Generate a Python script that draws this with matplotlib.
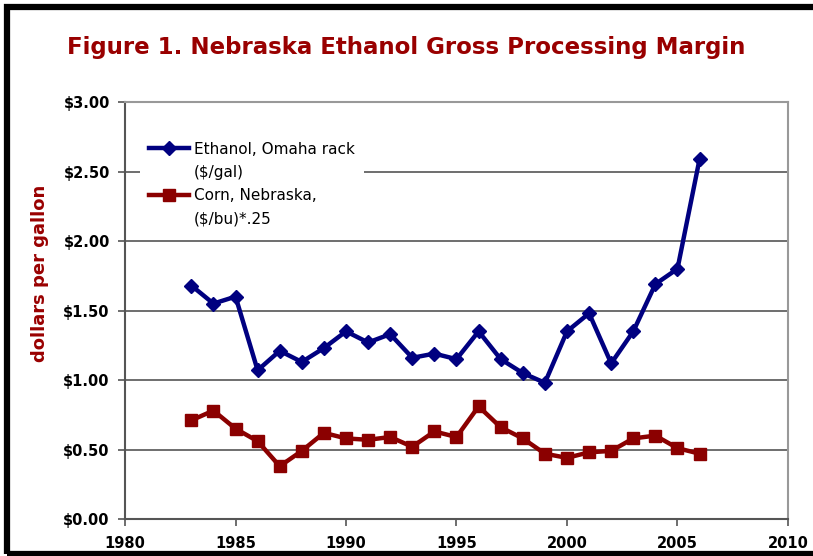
import matplotlib
matplotlib.use('Agg')
import matplotlib.pyplot as plt
from matplotlib.lines import Line2D
from matplotlib.patches import Rectangle
from matplotlib.ticker import FuncFormatter

years = list(range(1983, 2007))
ethanol = [1.68, 1.55, 1.60, 1.07, 1.21, 1.13, 1.23, 1.35, 1.27, 1.33, 1.16, 1.19,
           1.15, 1.35, 1.15, 1.05, 0.98, 1.35, 1.48, 1.12, 1.35, 1.69, 1.80, 2.59]
corn = [0.71, 0.78, 0.65, 0.56, 0.38, 0.49, 0.62, 0.58, 0.57, 0.59, 0.52, 0.63,
        0.59, 0.81, 0.66, 0.58, 0.47, 0.44, 0.48, 0.49, 0.58, 0.60, 0.51, 0.47]
# legend text split in two lines each (handle sits on the first line, as in Excel)
eth_label = ['Ethanol, Omaha rack', '($/gal)']
corn_label = ['Corn, Nebraska,', '($/bu)*.25']

fig = plt.figure(figsize=(8.13, 5.56), dpi=100)
ax = fig.add_axes([0.1538, 0.0665, 0.8154, 0.75])

l1, = ax.plot(years, ethanol, color='#000080', lw=3.2, marker='D', ms=7)
l2, = ax.plot(years, corn, color='#8b0000', lw=3.2, marker='s', ms=8)

ax.set_xlim(1980, 2010)
ax.set_ylim(0, 3)
ax.set_xticks(range(1980, 2011, 5))
ax.set_yticks([i * 0.5 for i in range(7)])
ax.yaxis.set_major_formatter(FuncFormatter(lambda v, p: '${:.2f}'.format(v)))
ax.grid(axis='y', color='#555555', lw=1.2)
ax.set_axisbelow(True)

for s in ['top', 'right']:
    ax.spines[s].set_color('#999999')
    ax.spines[s].set_linewidth(1.5)
for s in ['left', 'bottom']:
    ax.spines[s].set_color('#555555')
    ax.spines[s].set_linewidth(1.5)

ax.tick_params(axis='both', colors='#555555', labelcolor='black', width=1.2, length=5)
ax.tick_params(axis='x', pad=7)
ax.tick_params(axis='y', pad=6)
for lbl in ax.get_xticklabels() + ax.get_yticklabels():
    lbl.set_fontweight('bold')
    lbl.set_fontsize(10.5)

ax.set_ylabel('dollars per gallon', color='#990000', fontsize=13, fontweight='bold')
ax.yaxis.set_label_coords(-0.115, 0.59)

blank = Line2D([], [], alpha=0)
leg = ax.legend([l1, blank, l2, blank], eth_label + corn_label,
                loc='upper left', bbox_to_anchor=(0.011, 0.945), frameon=True, fancybox=False,
                edgecolor='none', facecolor='white', framealpha=1, fontsize=11,
                handlelength=2.6, handletextpad=0.35, labelspacing=0.53, borderpad=0.6)

fig.text(0.5, 0.915, 'Figure 1. Nebraska Ethanol Gross Processing Margin', ha='center', va='center',
         color='#990000', fontsize=16.5, fontweight='bold')

# outer black frame
fig.patches.append(Rectangle((0.008, 0.004), 1.1, 0.983, transform=fig.transFigure,
                             fill=False, edgecolor='black', lw=4.5))

fig.savefig('out.png', dpi=100)
